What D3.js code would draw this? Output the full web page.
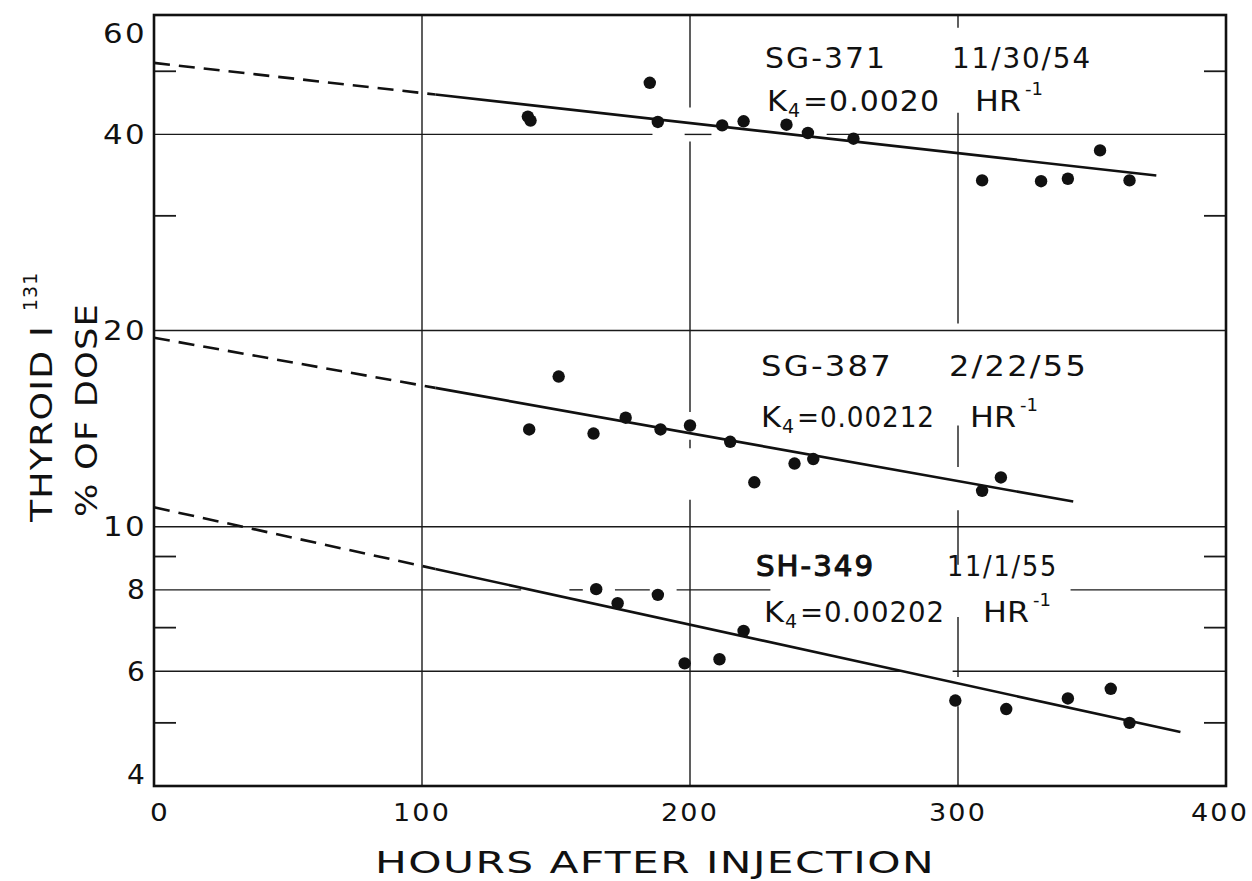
<!DOCTYPE html>
<html><head><meta charset="utf-8">
<script src="https://cdn.jsdelivr.net/npm/d3@7"></script>
<style>body{margin:0;background:#fff}svg{display:block}</style>
</head><body>
<svg id="chart" width="1252" height="881"></svg>
<script>
// ---- data ----
const xTickValues = [0, 100, 200, 300, 400];
const yTickValues = [4, 6, 8, 10, 20, 40, 60];
const yMinorTicks = [5, 7, 9, 30, 50];
// gridlines (visible pieces, drafting style)
const hGrid = [
  {v: 40, pieces: [[0, 186], [198, 208], [251, 400]]},
  {v: 20, pieces: [[0, 400]]},
  {v: 10, pieces: [[0, 400]]},
  {v: 8,  pieces: [[0, 137], [155, 160], [172, 185], [195, 230], [342, 400]]},
  {v: 6,  pieces: [[0, 279], [298, 400]]}
];
const vGrid = [
  {h: 100, pieces: [[4, 61]]},
  {h: 200, pieces: [[44, 61], [15, 39], [13.2, 13.6], [4, 11]]},
  {h: 300, pieces: [[58.3, 61], [20.5, 43.2], [12.35, 14.3], [8.74, 10.6], [5.88, 7.27], [4, 5.3]]}
];

// SG-371  11/30/54
const sg371Hours  = [139.5, 140.5, 185, 188, 212, 220, 236, 244, 261, 309, 331, 341, 353, 364];
const sg371Values = [42.6, 42.0, 48.0, 41.8, 41.3, 41.9, 41.4, 40.2, 39.4, 34.0, 33.9, 34.2, 37.8, 34.0];
// SG-387  2/22/55
const sg387Hours  = [140, 151, 164, 176, 189, 200, 215, 224, 239, 246, 309, 316];
const sg387Values = [14.1, 17.0, 13.9, 14.7, 14.1, 14.3, 13.5, 11.7, 12.5, 12.7, 11.35, 11.9];
// SH-349  11/1/55
const sh349Hours  = [165, 173, 188, 198, 211, 220, 299, 318, 341, 357, 364];
const sh349Values = [8.02, 7.63, 7.86, 6.17, 6.26, 6.92, 5.41, 5.25, 5.45, 5.64, 5.0];

// fitted lines: [startHour, startValue, endHour, endValue], dashed until dashEnd
const fitLines = [
  {from: [0, 51.5], to: [374, 34.6], dashEnd: 105},
  {from: [0, 19.5], to: [343, 10.93], dashEnd: 105},
  {from: [0, 10.71], to: [383, 4.84], dashEnd: 105}
];

const seriesNames = ["SG-371", "SG-387", "SH-349"];
const seriesDates = ["11/30/54", "2/22/55", "11/1/55"];
const seriesK = ["0.0020", "0.00212", "0.00202"];

// ---- chart ----
const svg = d3.select("#chart");
const FONT = "'DejaVu Sans', Verdana, sans-serif";
const x = d3.scaleLinear().domain([0, 400]).range([154, 1226]);
const y = d3.scaleLog().domain([4, 61]).range([786, 15]);

const grid = svg.append("g").attr("stroke", "#1a1a1a").attr("stroke-width", 1.4).attr("fill", "none");
hGrid.forEach(g => g.pieces.forEach(p => {
  grid.append("line").attr("x1", x(p[0])).attr("x2", x(p[1])).attr("y1", y(g.v)).attr("y2", y(g.v));
}));
vGrid.forEach(g => g.pieces.forEach(p => {
  grid.append("line").attr("x1", x(g.h)).attr("x2", x(g.h)).attr("y1", y(p[0])).attr("y2", y(p[1]));
}));

// minor ticks left & right
yMinorTicks.forEach(v => {
  grid.append("line").attr("x1", x(0)).attr("x2", x(0) + 22).attr("y1", y(v)).attr("y2", y(v)).attr("stroke-width", 1.8);
  grid.append("line").attr("x1", x(400)).attr("x2", x(400) - 22).attr("y1", y(v)).attr("y2", y(v)).attr("stroke-width", 1.8);
});

// frame
svg.append("rect").attr("x", x(0)).attr("y", y(61)).attr("width", x(400) - x(0)).attr("height", y(4) - y(61))
  .attr("fill", "none").attr("stroke", "#111").attr("stroke-width", 2.6);

// fit lines
const lineGen = d3.line().x(d => x(d[0])).y(d => y(d[1]));
fitLines.forEach(f => {
  const k = Math.log(f.to[1] / f.from[1]) / (f.to[0] - f.from[0]);
  const vb = f.from[1] * Math.exp(k * (f.dashEnd - f.from[0]));
  svg.append("path").attr("d", lineGen([f.from, [f.dashEnd, vb]]))
    .attr("fill", "none").attr("stroke", "#111").attr("stroke-width", 2.6).attr("stroke-dasharray", "16,9");
  svg.append("path").attr("d", lineGen([[f.dashEnd, vb], f.to]))
    .attr("fill", "none").attr("stroke", "#111").attr("stroke-width", 2.6);
});

// points
[[sg371Hours, sg371Values], [sg387Hours, sg387Values], [sh349Hours, sh349Values]].forEach(([hs, vs]) => {
  svg.append("g").selectAll("circle").data(hs.map((h, i) => [h, vs[i]])).join("circle")
    .attr("cx", d => x(d[0])).attr("cy", d => y(d[1])).attr("r", 6.2).attr("fill", "#111");
});

// y tick labels
svg.append("g").selectAll("text").data(yTickValues).join("text")
  .attr("x", 147).attr("y", d => Math.min(Math.max(y(d), 34), 775))
  .attr("dy", "0.36em").attr("text-anchor", "end")
  .attr("font-family", FONT).attr("font-size", 26).attr("letter-spacing", 2).attr("fill", "#111")
  .attr("textLength", d => String(d).length === 2 ? 44 : 20).attr("lengthAdjust", "spacingAndGlyphs")
  .text(d => d);

// x tick labels
svg.append("g").selectAll("text").data(xTickValues).join("text")
  .attr("x", d => x(d) + (d === 0 ? 6 : d === 400 ? -6 : 0)).attr("y", 821)
  .attr("text-anchor", "middle")
  .attr("font-family", FONT).attr("font-size", 25).attr("letter-spacing", 2).attr("fill", "#111")
  .attr("textLength", d => String(d).length === 3 ? 58 : 20).attr("lengthAdjust", "spacingAndGlyphs")
  .text(d => d);

// axis titles
svg.append("text").attr("x", 375).attr("y", 873).attr("textLength", 560).attr("lengthAdjust", "spacingAndGlyphs")
  .attr("font-family", FONT).attr("font-size", 30).attr("letter-spacing", 1).attr("fill", "#111").text("HOURS AFTER INJECTION");

const yt = svg.append("text").attr("transform", "translate(52,522) rotate(-90)")
  .attr("font-family", FONT).attr("font-size", 31).attr("fill", "#111");
yt.append("tspan").attr("textLength", 197).attr("lengthAdjust", "spacingAndGlyphs").attr("letter-spacing", 1).text("THYROID I");
yt.append("tspan").attr("dx", 14).attr("dy", -15).attr("font-size", 19).attr("letter-spacing", 1).text("131");
svg.append("text").attr("transform", "translate(97,517) rotate(-90)")
  .attr("textLength", 214).attr("lengthAdjust", "spacingAndGlyphs").attr("letter-spacing", 1)
  .attr("font-family", FONT).attr("font-size", 31).attr("fill", "#111").text("% OF DOSE");

// annotations
const ann = [
  {nx: 765, ny: 68, nw: 122, dx: 952, dw: 140, kx: 767, ky: 111, kend: 940, hx: 975, bold: false},
  {nx: 761, ny: 376, nw: 132, dx: 949, dw: 139, kx: 761, ky: 427, kend: 935, hx: 970, bold: false},
  {nx: 756, ny: 576, nw: 119, dx: 947, dw: 111, kx: 764, ky: 622, kend: 945, hx: 983, bold: true}
];
ann.forEach((a, i) => {
  const g = svg.append("g").attr("font-family", FONT).attr("fill", "#111");
  const nm = g.append("text").attr("x", a.nx).attr("y", a.ny).attr("font-size", 29).attr("letter-spacing", 2)
    .attr("textLength", a.nw).attr("lengthAdjust", "spacingAndGlyphs").text(seriesNames[i]);
  if (a.bold) nm.attr("stroke", "#111").attr("stroke-width", 1.1);
  g.append("text").attr("x", a.dx).attr("y", a.ny).attr("font-size", 29).attr("letter-spacing", 2)
    .attr("textLength", a.dw).attr("lengthAdjust", "spacingAndGlyphs").text(seriesDates[i]);
  g.append("text").attr("x", a.kx).attr("y", a.ky).attr("font-size", 29)
    .attr("textLength", 20).attr("lengthAdjust", "spacingAndGlyphs").text("K");
  g.append("text").attr("x", a.kx + 21).attr("y", a.ky + 6).attr("font-size", 19).text("4");
  const rest = "=" + seriesK[i];
  g.append("text").attr("x", a.kx + 36).attr("y", a.ky).attr("font-size", 29).attr("letter-spacing", 1)
    .attr("textLength", a.kend - a.kx - 36).attr("lengthAdjust", "spacingAndGlyphs").text(rest);
  g.append("text").attr("x", a.hx).attr("y", a.ky).attr("font-size", 29)
    .attr("textLength", 46).attr("lengthAdjust", "spacingAndGlyphs").text("HR");
  g.append("text").attr("x", a.hx + 50).attr("y", a.ky - 16).attr("font-size", 18).text("-1");
});
</script>
</body></html>
